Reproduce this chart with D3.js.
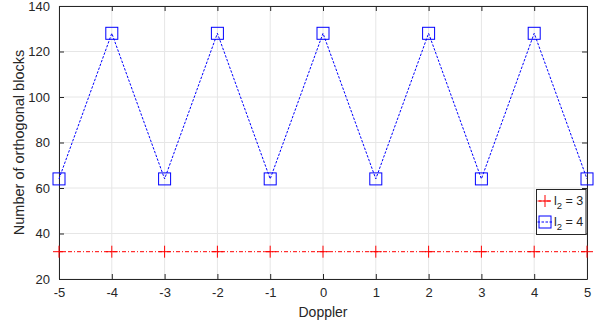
<!DOCTYPE html>
<html>
<head>
<meta charset="utf-8">
<script src="https://cdn.jsdelivr.net/npm/d3@7"></script>
<style>
  body { margin: 0; background: #fff; }
  svg { display: block; font-family: "Liberation Sans", Arial, sans-serif; }
</style>
</head>
<body>
<div id="chart"></div>
<script>
const doppler = [-5, -4, -3, -2, -1, 0, 1, 2, 3, 4, 5];
const blocksL3 = [32, 32, 32, 32, 32, 32, 32, 32, 32, 32, 32];
const blocksL4 = [64, 128, 64, 128, 64, 128, 64, 128, 64, 128, 64];
const yTicks = [20, 40, 60, 80, 100, 120, 140];
const xTicks = [-5, -4, -3, -2, -1, 0, 1, 2, 3, 4, 5];

const W = 600, H = 324;
const margin = { top: 6, right: 13, bottom: 45, left: 59 };
const width = W - margin.left - margin.right;
const height = H - margin.top - margin.bottom;
const axisColor = "#262626";
const redDash = "4,2,1,2";
const blueDash = "2.5,1.5";

const svg = d3.select("#chart").append("svg")
  .attr("width", W).attr("height", H);
const g = svg.append("g")
  .attr("transform", `translate(${margin.left},${margin.top})`);

const x = d3.scaleLinear().domain([-5, 5]).range([0, width]);
const y = d3.scaleLinear().domain([20, 140]).range([height, 0]);

// grid
g.append("g").selectAll("line").data(xTicks).enter().append("line")
  .attr("x1", d => x(d)).attr("x2", d => x(d))
  .attr("y1", 0).attr("y2", height)
  .attr("stroke", "#e6e6e6").attr("stroke-width", 1);
g.append("g").selectAll("line").data(yTicks).enter().append("line")
  .attr("y1", d => y(d)).attr("y2", d => y(d))
  .attr("x1", 0).attr("x2", width)
  .attr("stroke", "#e6e6e6").attr("stroke-width", 1);

// axes with inner ticks, hyphen minus like matlab
const tickLen = 5;
const fmt = d => String(d);
const bottomAxis = g.append("g").attr("transform", `translate(0,${height})`)
  .call(d3.axisBottom(x).tickValues(xTicks).tickFormat(fmt).tickSizeInner(-tickLen).tickSizeOuter(0).tickPadding(9));
const topAxis = g.append("g")
  .call(d3.axisTop(x).tickValues(xTicks).tickSizeInner(-tickLen).tickSizeOuter(0).tickFormat(""));
const leftAxis = g.append("g")
  .call(d3.axisLeft(y).tickValues(yTicks).tickFormat(fmt).tickSizeInner(-tickLen).tickSizeOuter(0).tickPadding(9));
const rightAxis = g.append("g").attr("transform", `translate(${width},0)`)
  .call(d3.axisRight(y).tickValues(yTicks).tickSizeInner(-tickLen).tickSizeOuter(0).tickFormat(""));

[bottomAxis, topAxis, leftAxis, rightAxis].forEach(a => {
  a.selectAll("path").attr("stroke", axisColor);
  a.selectAll("line").attr("stroke", axisColor);
  a.selectAll("text").attr("fill", axisColor).style("font-size", "13px");
});

// series
const l3 = doppler.map((d, i) => ({ x: d, y: blocksL3[i] }));
const l4 = doppler.map((d, i) => ({ x: d, y: blocksL4[i] }));
const line = d3.line().x(d => x(d.x)).y(d => y(d.y));

g.append("path").datum(l4)
  .attr("d", line).attr("fill", "none")
  .attr("stroke", "#0000ff").attr("stroke-width", 1)
  .attr("stroke-dasharray", blueDash);
g.append("path").datum(l3)
  .attr("d", line).attr("fill", "none")
  .attr("stroke", "#ff0000").attr("stroke-width", 1)
  .attr("stroke-dasharray", redDash);

const plus = 6;
g.append("g").selectAll("path").data(l3).enter().append("path")
  .attr("d", d => `M${x(d.x) - plus},${y(d.y)}H${x(d.x) + plus}M${x(d.x)},${y(d.y) - plus}V${y(d.y) + plus}`)
  .attr("stroke", "#ff0000").attr("stroke-width", 1);

const sq = 6;
g.append("g").selectAll("rect").data(l4).enter().append("rect")
  .attr("x", d => x(d.x) - sq).attr("y", d => y(d.y) - sq)
  .attr("width", sq * 2).attr("height", sq * 2)
  .attr("fill", "none").attr("stroke", "#0000ff").attr("stroke-width", 1);

// labels
svg.append("text")
  .attr("x", margin.left + width / 2).attr("y", 317)
  .attr("text-anchor", "middle").attr("fill", axisColor)
  .style("font-size", "14px").text("Doppler");
svg.append("text")
  .attr("transform", `translate(24,${margin.top + height / 2}) rotate(-90)`)
  .attr("text-anchor", "middle").attr("fill", axisColor)
  .style("font-size", "14.5px").text("Number of orthogonal blocks");

// legend
const lg = svg.append("g").attr("transform", "translate(536.5,189.5)");
lg.append("rect").attr("width", 49.5).attr("height", 45)
  .attr("fill", "#fff").attr("stroke", axisColor).attr("stroke-width", 1);
const entries = [
  { name: "3", color: "#ff0000", dash: redDash, marker: "plus" },
  { name: "4", color: "#0000ff", dash: blueDash, marker: "square" }
];
entries.forEach((e, i) => {
  const cy = 11.5 + i * 21;
  lg.append("line").attr("x1", 1).attr("x2", 16).attr("y1", cy).attr("y2", cy)
    .attr("stroke", e.color).attr("stroke-width", 1).attr("stroke-dasharray", e.dash);
  if (e.marker === "plus") {
    lg.append("path").attr("d", `M${8.5 - plus},${cy}H${8.5 + plus}M8.5,${cy - plus}V${cy + plus}`)
      .attr("stroke", e.color).attr("stroke-width", 1);
  } else {
    lg.append("rect").attr("x", 8.5 - sq).attr("y", cy - sq).attr("width", sq * 2).attr("height", sq * 2)
      .attr("fill", "none").attr("stroke", e.color).attr("stroke-width", 1);
  }
  const t = lg.append("text").attr("x", 17.5).attr("y", cy + 4)
    .attr("fill", axisColor).style("font-size", "12.5px");
  t.append("tspan").text("l");
  t.append("tspan").attr("dy", 4).style("font-size", "9.5px").text("2");
  t.append("tspan").attr("dy", -4).text(" = " + e.name);
});
</script>
</body>
</html>
